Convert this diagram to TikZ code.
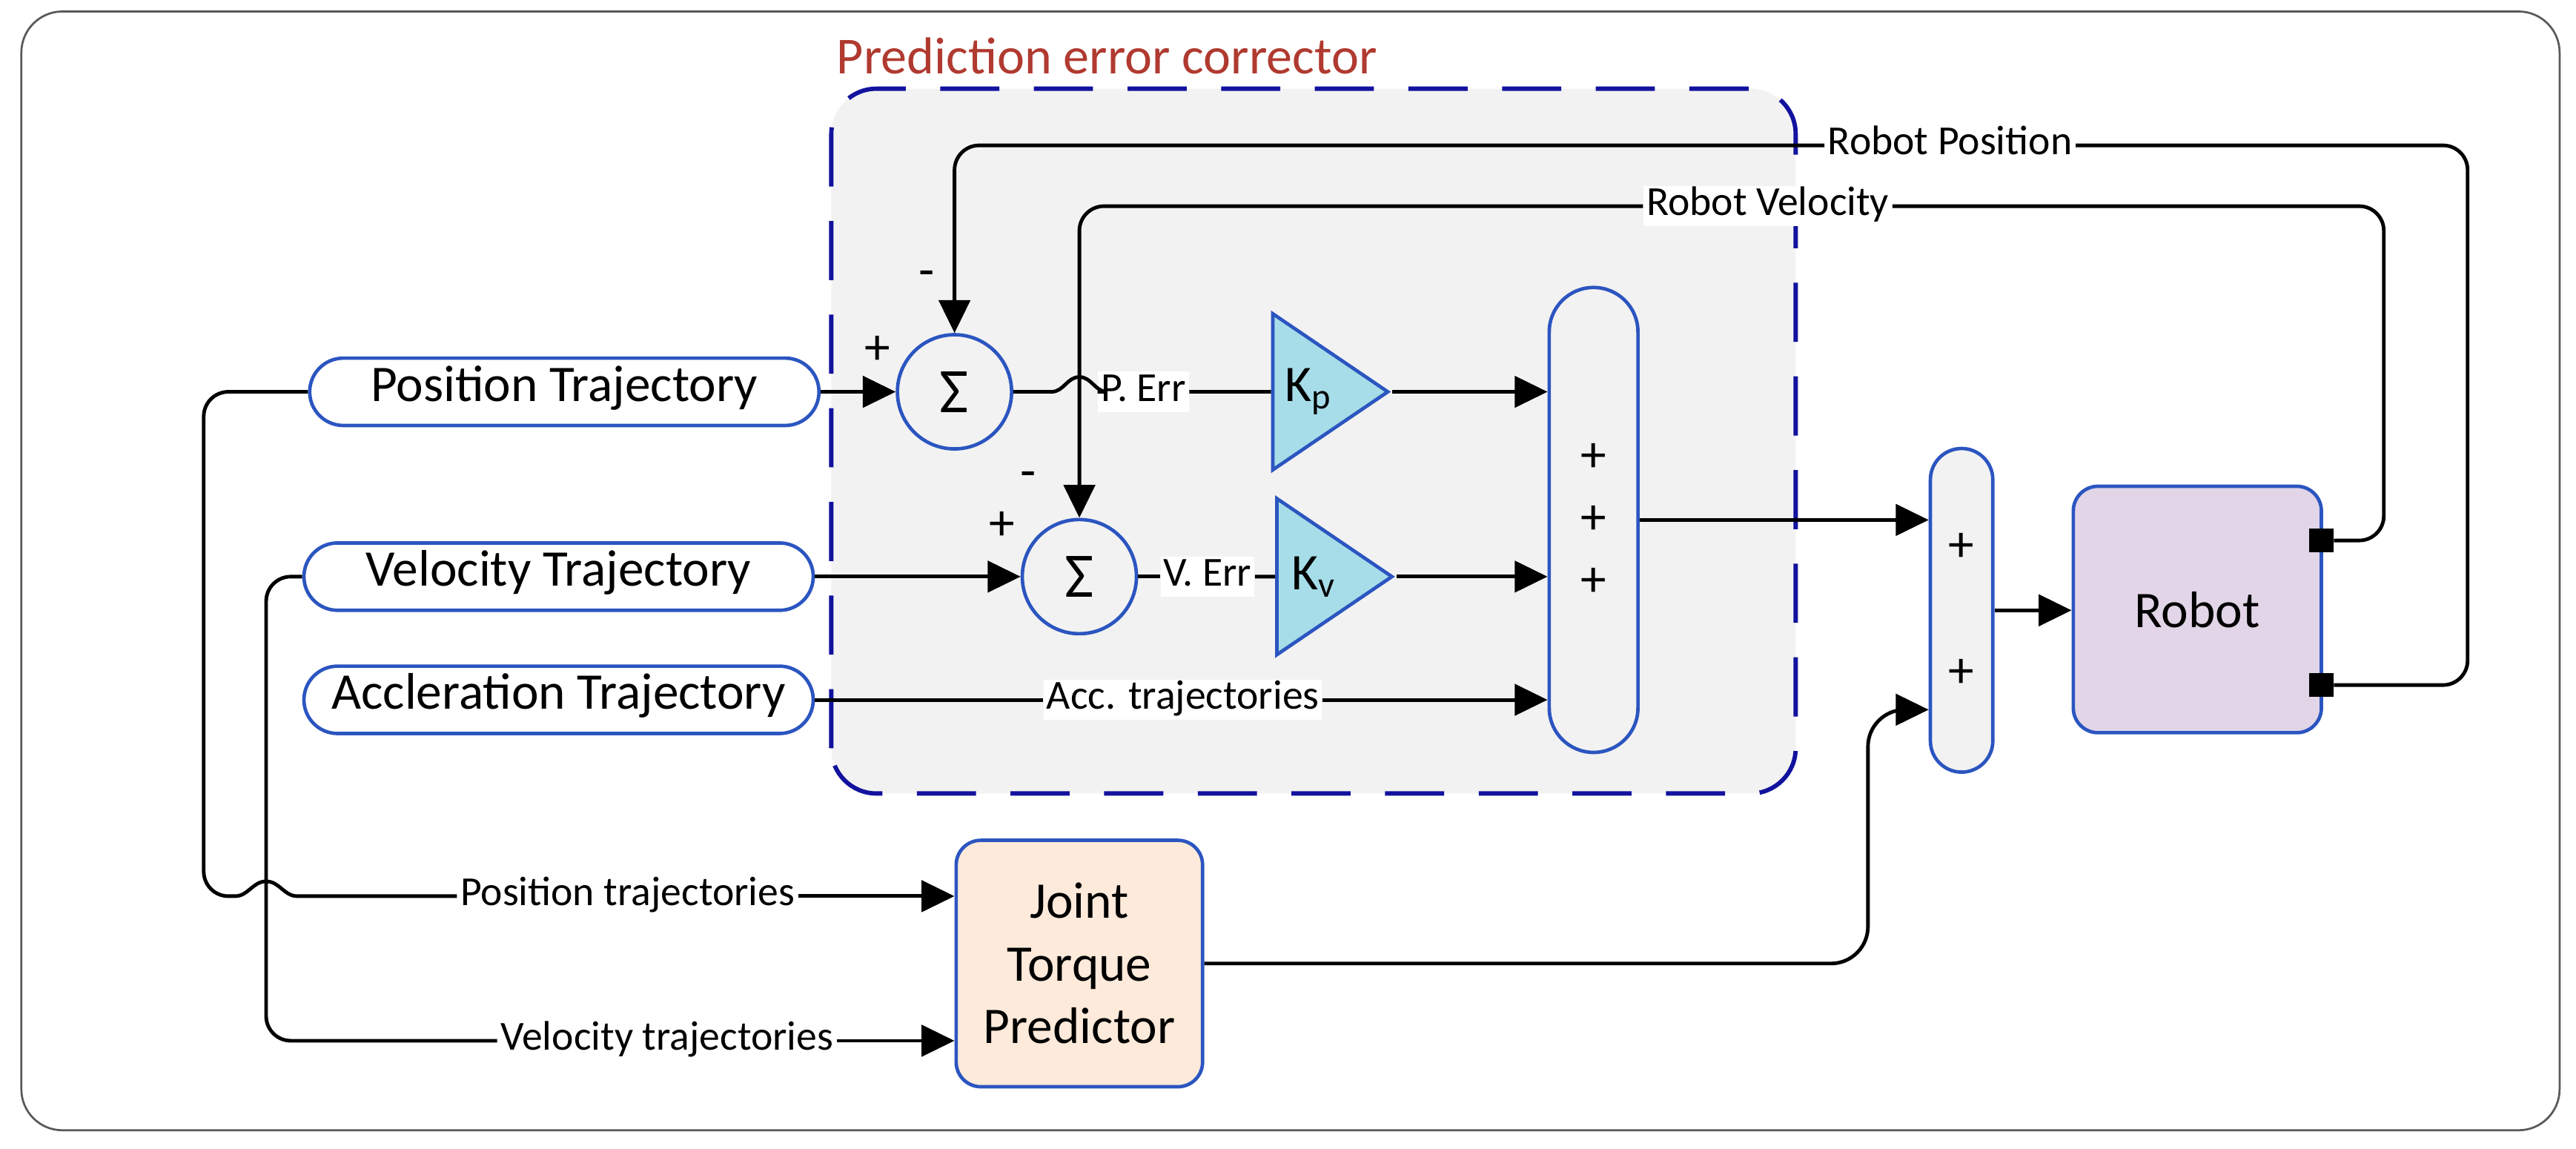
\documentclass[tikz,border=0pt]{standalone}
\usepackage{fontspec}
\setmainfont{Carlito}
\usetikzlibrary{arrows.meta,shapes.geometric}

\definecolor{blockblue}{HTML}{2B55C0}
\definecolor{groupnavy}{HTML}{12129E}
\definecolor{titlered}{HTML}{B03A30}
\definecolor{gaincyan}{HTML}{A6DDE8}
\definecolor{robotlilac}{HTML}{E1D5E7}
\definecolor{jtppeach}{HTML}{FDEADA}
\definecolor{groupgray}{HTML}{F2F2F2}

\newcommand\blockfont{\fontsize{17.8}{21.7}\selectfont}
\newcommand\lblfont{\fontsize{14.3}{17}\selectfont}

\tikzset{
	traj/.style={draw=blockblue, line width=1.2pt, fill=white, rounded corners=4.1mm, minimum width=6.2cm, minimum height=0.82cm, inner sep=0pt, text height=0.72em, text depth=0.08em, font=\blockfont},
	summer/.style={circle, draw=blockblue, line width=1.2pt, minimum size=1.39cm, inner sep=0pt, font=\fontsize{22}{22}\selectfont},
	gain/.style={isosceles triangle, isosceles triangle stretches, draw=blockblue, line width=1.2pt, fill=gaincyan, minimum height=1.4cm, minimum width=1.9cm, inner sep=0pt, font=\blockfont},
	adder/.style={draw=blockblue, line width=1.2pt, fill=groupgray, inner sep=0pt, align=center},
	block/.style={draw=blockblue, line width=1.2pt, rounded corners=3mm, minimum width=3cm, minimum height=3cm, align=center, font=\blockfont},
	port/.style={fill=black, minimum size=0.29cm, inner sep=0pt},
	lbl/.style={fill=white, inner xsep=1pt, inner ysep=3pt, text height=0.72em, text depth=0.08em, font=\lblfont},
	sign/.style={inner sep=0pt, font=\blockfont},
	wire/.style={line width=1.25pt, rounded corners=3mm},
	sig/.style={wire, -{Triangle[length=4mm,width=3.8mm]}},
}

\begin{document}
\begin{tikzpicture}
		%%%%% FRAME %%%%%
		\useasboundingbox (0,0) rectangle (31.36,13.98);
		\draw[line width=0.7pt, color=black!65, rounded corners=5mm] (0.26,0.22) rectangle (31.16,13.84);
		
		\draw[line width=1.5pt, color=groupnavy, fill=groupgray, dash pattern=on 0.72cm off 0.42cm, rounded corners=5.5mm] (10.12,4.32) rectangle (21.86,12.9);
		\node[anchor=base west, color=titlered, font=\fontsize{18}{21}\selectfont, inner sep=0pt] (grouptitle) at (10.18,13.08) {Prediction error corrector};
		
		%%%%% BLOCKS %%%%%
		\node[traj] (postraj) at (6.87,9.21) {Position Trajectory};
		\node[traj] (veltraj) at (6.80,6.96) {Velocity Trajectory};
		\node[traj] (acctraj) at (6.80,5.46) {Accleration Trajectory};
		
		\node[summer] (sum1) at (11.62,9.21) {Σ};
		\node[summer] (sum2) at (13.14,6.96) {Σ};
		\node[sign] (s1plus) at (10.68,9.72) {+};
		\node[sign] (s1minus) at (11.28,10.58) {-};
		\node[sign] (s2plus) at (12.2,7.58) {+};
		\node[sign] (s2minus) at (12.52,8.14) {-};
		
		\node[gain, anchor=apex] (kp) at (16.95,9.21) {K\textsubscript{p}};
		\node[gain, anchor=apex] (kv) at (17.0,6.96) {K\textsubscript{v}};
		
		\node[adder, minimum width=1.08cm, minimum height=5.66cm, rounded corners=5.4mm, font=\fontsize{17.8}{21.6}\selectfont] (sumall) at (19.40,7.65) {+\\+\\+};
		\node[adder, minimum width=0.76cm, minimum height=3.94cm, rounded corners=3.8mm, font=\fontsize{17.8}{43.7}\selectfont] (sumtau) at (23.88,6.55) {+\\+};
		
		\node[block, fill=robotlilac, minimum width=3.02cm] (robot) at (26.75,6.56) {Robot};
		\node[port] (portv) at (28.26,7.40) {};
		\node[port] (portp) at (28.26,5.64) {};
		
		\node[block, fill=jtppeach] (jtp) at (13.14,2.25) {Joint\\Torque\\Predictor};
		
		%%%%% LABELS %%%%%
		\node[lbl] (rpos) at (23.74,12.21) {Robot Position};
		\node[lbl] (rvel) at (21.52,11.47) {Robot Velocity};
		\node[lbl] (perr) at (13.92,9.21) {P. Err};
		\node[lbl] (verr) at (14.70,6.96) {V. Err};
		\node[lbl] (accl) at (14.40,5.46) {Acc. trajectories};
		\node[lbl] (ptraj) at (7.64,3.07) {Position trajectories};
		\node[lbl] (vtraj) at (8.12,1.31) {Velocity trajectories};
		
		\coordinate (jtpturn) at (22.74,5.34);
		\coordinate (hopin) at (2.86,3.07);
		
		%%%%% SIGNALS %%%%%
		\draw[sig] (postraj.east) -- (sum1.west);
		\draw[sig] (veltraj.east) -- (sum2.west);
		\draw[wire] (acctraj.east) -- (accl.west);
		\draw[sig] (accl.east) -- (accl.east -| sumall.west);
		
		\draw[wire, sharp corners] (sum1.east) -- (12.80,9.21) to[out=0,in=180] (13.14,9.39) to[out=0,in=180] (13.48,9.21) -- (perr.west);
		\draw[wire] (perr.east) -- (kp.west);
		\draw[wire] (sum2.east) -- (verr.west);
		\draw[wire] (verr.east) -- (kv.west);
		\draw[sig] (kp.apex) -- (kp.apex -| sumall.west);
		\draw[sig] (kv.apex) -- (kv.apex -| sumall.west);
		
		\draw[sig] (sumall.east) -- (sumall.east -| sumtau.west);
		\draw[sig] (sumtau.east) -- (sumtau.east -| robot.west);
		
		\draw[wire] (portp.east) -| (30.04,12.21) -- (rpos.east);
		\draw[sig] (rpos.west) -| (sum1.north);
		\draw[wire] (portv.east) -| (29.02,11.47) -- (rvel.east);
		\draw[sig] (rvel.west) -| (sum2.north);
		
		\draw[wire] (postraj.west) -| (2.48,3.07) -- (hopin);
		\draw[wire, sharp corners] (hopin) to[out=0,in=180] (3.24,3.25) to[out=0,in=180] (3.62,3.07) -- (ptraj.west);
		\draw[sig] (ptraj.east) -- (ptraj.east -| jtp.west);
		\draw[wire] (veltraj.west) -| (3.24,1.31) -- (vtraj.west);
		\draw[sig] (vtraj.east) -- (vtraj.east -| jtp.west);
		
		\draw[sig, rounded corners=4.5mm] (jtp.east) -| (jtpturn) -- (jtpturn -| sumtau.west);
		
		%%%%% END %%%%%
\end{tikzpicture}
\end{document}
